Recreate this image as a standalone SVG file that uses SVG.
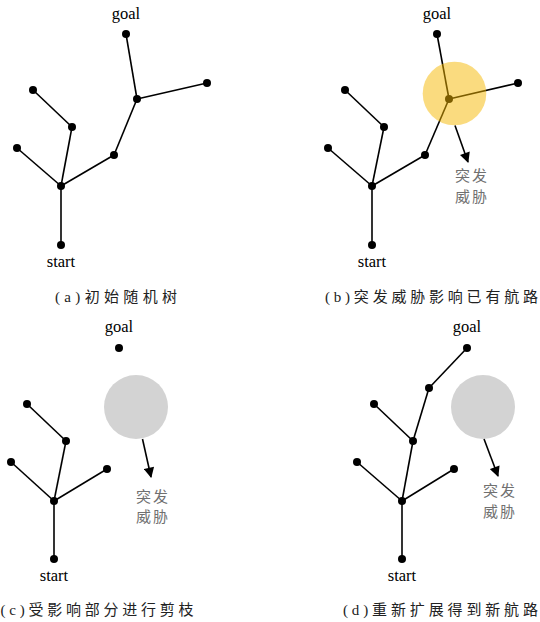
<svg xmlns="http://www.w3.org/2000/svg" width="540" height="622" viewBox="0 0 540 622">
<defs>
<style>
.e{stroke:#000;stroke-width:1.6;fill:none}
.n{fill:#000}
.lbl{font-family:"Liberation Serif","Times New Roman",serif;font-size:16.5px;fill:#000;text-anchor:middle}
.thr{font-family:"Liberation Serif","Noto Sans CJK SC",sans-serif;font-size:15px;fill:#707070;text-anchor:middle;letter-spacing:2px}
.cap{font-family:"Liberation Serif","Noto Sans CJK SC",serif;font-size:15px;fill:#222;text-anchor:middle}
.arr{stroke:#000;stroke-width:1.6;fill:none;marker-end:url(#ah)}
</style>
<marker id="ah" viewBox="0 0 10 10" refX="9" refY="5" markerWidth="7" markerHeight="6.5" markerUnits="strokeWidth" orient="auto">
<path d="M0,0 L10,5 L0,10 z" fill="#000"/>
</marker>
</defs>
<rect width="540" height="622" fill="#fff"/>

<!-- Panel a -->
<g id="panel-a">
<g id="a-connectors">
<line class="e" x1="61" y1="245" x2="61" y2="186"/>
<line class="e" x1="61" y1="186" x2="17" y2="148"/>
<line class="e" x1="61" y1="186" x2="72" y2="127"/>
<line class="e" x1="72" y1="127" x2="33" y2="90"/>
<line class="e" x1="61" y1="186" x2="114" y2="155"/>
<line class="e" x1="114" y1="155" x2="137" y2="99"/>
<line class="e" x1="137" y1="99" x2="207" y2="83"/>
<line class="e" x1="137" y1="99" x2="126" y2="34"/>
</g>
<g id="a-start"><circle class="n" cx="61" cy="245" r="4"/></g>
<g id="a-root"><circle class="n" cx="61" cy="186" r="4"/></g>
<g id="a-n1"><circle class="n" cx="17" cy="148" r="4"/></g>
<g id="a-n2"><circle class="n" cx="72" cy="127" r="4"/></g>
<g id="a-n3"><circle class="n" cx="33" cy="90" r="4"/></g>
<g id="a-n4"><circle class="n" cx="114" cy="155" r="4"/></g>
<g id="a-n5"><circle class="n" cx="137" cy="99" r="4"/></g>
<g id="a-n6"><circle class="n" cx="207" cy="83" r="4"/></g>
<g id="a-goal"><circle class="n" cx="126" cy="34" r="4"/></g>
<text class="lbl" x="126" y="19">goal</text>
<text class="lbl" x="61" y="267">start</text>
<text class="cap" x="116" y="302" textLength="122" lengthAdjust="spacing">(a)初始随机树</text>
</g>

<!-- Panel b -->
<g id="panel-b">
<g id="b-connectors">
<line class="e" x1="372" y1="245" x2="372" y2="186"/>
<line class="e" x1="372" y1="186" x2="328" y2="148"/>
<line class="e" x1="372" y1="186" x2="384" y2="127"/>
<line class="e" x1="384" y1="127" x2="345" y2="90"/>
<line class="e" x1="372" y1="186" x2="425" y2="155"/>
<line class="e" x1="425" y1="155" x2="449" y2="99"/>
<line class="e" x1="449" y1="99" x2="518" y2="83"/>
<line class="e" x1="449" y1="99" x2="437" y2="34"/>
</g>
<g id="b-start"><circle class="n" cx="372" cy="245" r="4"/></g>
<g id="b-root"><circle class="n" cx="372" cy="186" r="4"/></g>
<g id="b-n1"><circle class="n" cx="328" cy="148" r="4"/></g>
<g id="b-n2"><circle class="n" cx="384" cy="127" r="4"/></g>
<g id="b-n3"><circle class="n" cx="345" cy="90" r="4"/></g>
<g id="b-n4"><circle class="n" cx="425" cy="155" r="4"/></g>
<g id="b-n5"><circle class="n" cx="449" cy="99" r="4"/></g>
<g id="b-n6"><circle class="n" cx="518" cy="83" r="4"/></g>
<g id="b-goal"><circle class="n" cx="437" cy="34" r="4"/></g>
<g id="b-threat"><circle cx="454.5" cy="93.5" r="31.8" fill="#f6b800" fill-opacity="0.5"/></g>
<line class="arr" x1="455" y1="125.5" x2="468" y2="162"/>
<text class="thr" x="472" y="181">突发</text>
<text class="thr" x="472" y="202">威胁</text>
<text class="lbl" x="437" y="19">goal</text>
<text class="lbl" x="372" y="267">start</text>
<text class="cap" x="431.5" y="302" textLength="213" lengthAdjust="spacing">(b)突发威胁影响已有航路</text>
</g>

<!-- Panel c -->
<g id="panel-c">
<g id="c-connectors">
<line class="e" x1="54" y1="559" x2="54" y2="501"/>
<line class="e" x1="54" y1="501" x2="11" y2="462"/>
<line class="e" x1="54" y1="501" x2="66" y2="441"/>
<line class="e" x1="66" y1="441" x2="27" y2="404"/>
<line class="e" x1="54" y1="501" x2="107" y2="469"/>
</g>
<g id="c-start"><circle class="n" cx="54" cy="559" r="4"/></g>
<g id="c-root"><circle class="n" cx="54" cy="501" r="4"/></g>
<g id="c-n1"><circle class="n" cx="11" cy="462" r="4"/></g>
<g id="c-n2"><circle class="n" cx="66" cy="441" r="4"/></g>
<g id="c-n3"><circle class="n" cx="27" cy="404" r="4"/></g>
<g id="c-n4"><circle class="n" cx="107" cy="469" r="4"/></g>
<g id="c-goal"><circle class="n" cx="119" cy="348" r="4"/></g>
<g id="c-threat"><circle cx="136" cy="407" r="32" fill="#d3d3d3"/></g>
<line class="arr" x1="142.5" y1="439" x2="151" y2="477"/>
<text class="thr" x="153" y="502">突发</text>
<text class="thr" x="153" y="522">威胁</text>
<text class="lbl" x="119" y="332">goal</text>
<text class="lbl" x="54" y="581">start</text>
<text class="cap" x="97" y="615" textLength="193" lengthAdjust="spacing">(c)受影响部分进行剪枝</text>
</g>

<!-- Panel d -->
<g id="panel-d">
<g id="d-connectors">
<line class="e" x1="402" y1="559" x2="402" y2="501"/>
<line class="e" x1="402" y1="501" x2="357" y2="462"/>
<line class="e" x1="402" y1="501" x2="413" y2="441"/>
<line class="e" x1="413" y1="441" x2="374" y2="404"/>
<line class="e" x1="402" y1="501" x2="454" y2="469"/>
<line class="e" x1="413" y1="441" x2="429" y2="388"/>
<line class="e" x1="429" y1="388" x2="467" y2="348"/>
</g>
<g id="d-start"><circle class="n" cx="402" cy="559" r="4"/></g>
<g id="d-root"><circle class="n" cx="402" cy="501" r="4"/></g>
<g id="d-n1"><circle class="n" cx="357" cy="462" r="4"/></g>
<g id="d-n2"><circle class="n" cx="413" cy="441" r="4"/></g>
<g id="d-n3"><circle class="n" cx="374" cy="404" r="4"/></g>
<g id="d-n4"><circle class="n" cx="454" cy="469" r="4"/></g>
<g id="d-n5"><circle class="n" cx="429" cy="388" r="4"/></g>
<g id="d-goal"><circle class="n" cx="467" cy="348" r="4"/></g>
<g id="d-threat"><circle cx="483" cy="407" r="32" fill="#d3d3d3"/></g>
<line class="arr" x1="484" y1="439" x2="498" y2="476"/>
<text class="thr" x="500" y="496">突发</text>
<text class="thr" x="500" y="517">威胁</text>
<text class="lbl" x="467" y="332">goal</text>
<text class="lbl" x="402" y="581">start</text>
<text class="cap" x="440.5" y="615" textLength="195" lengthAdjust="spacing">(d)重新扩展得到新航路</text>
</g>
</svg>
